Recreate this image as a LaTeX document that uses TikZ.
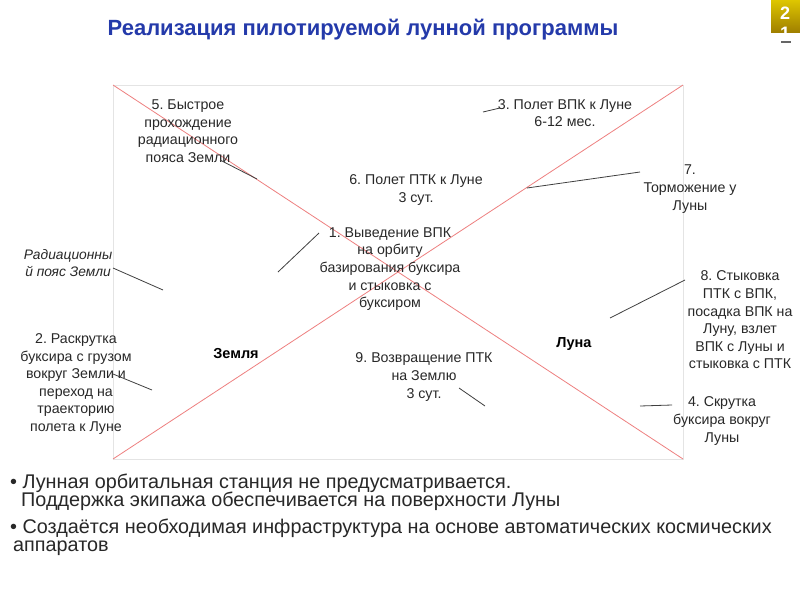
\documentclass[tikz,border=0pt]{standalone}
\usepackage{fontspec}
\setmainfont{Liberation Sans}
\definecolor{titleblue}{RGB}{36,58,170}
\definecolor{xred}{RGB}{238,128,128}
\definecolor{boxgray}{RGB}{228,228,228}
\definecolor{txt}{RGB}{40,40,40}
\definecolor{gold}{RGB}{200,160,0}
\frenchspacing
\tikzset{
  lbl/.style={align=center, text=txt, inner sep=0pt, font=\fontsize{14.2}{17.6}\selectfont},
  callout/.style={draw=black!75, line width=0.8pt},
  bullet/.style={anchor=west, text=txt, inner sep=0pt, font=\fontsize{19.8}{20}\selectfont},
}
\begin{document}
\begin{tikzpicture}[x=1pt,y=-1pt]
\useasboundingbox[fill=white] (0,0) rectangle (800,600);
% page badge
\shade[top color=gold!60!yellow, bottom color=gold!80!black] (771,0) rectangle (800,32);
\node[text=white, font=\bfseries\fontsize{18}{18}\selectfont, inner sep=0pt] (pg2) at (785,13) {2};
\node[text=white, font=\bfseries\fontsize{18}{18}\selectfont, inner sep=0pt] (pg1) at (785,33) {1};
\draw[black!60, line width=1.2pt] (781,42) -- (791,42);
% title
\node[text=titleblue, font=\bfseries\fontsize{22}{24}\selectfont, inner sep=0pt] (title) at (363,30) {Реализация пилотируемой лунной программы};
% frame and X
\coordinate (tl) at (113,85);
\coordinate (tr) at (683,85);
\coordinate (bl) at (113,459);
\coordinate (br) at (683,459);
\draw[boxgray, line width=0.8pt] (tl) rectangle (br);
\draw[xred, line width=0.8pt] (tl) -- (br);
\draw[xred, line width=0.8pt] (tr) -- (bl);
% labels
\node[lbl] (n5) at (188,131) {5. Быстрое\\прохождение\\радиационного\\пояса Земли};
\node[lbl] (n3) at (565,113) {3. Полет ВПК к Луне\\6-12 мес.};
\node[lbl] (n6) at (416,190) {6. Полет ПТК к Луне\\3 сут.};
\node[lbl] (n7) at (690,189) {7.\\Торможение у\\Луны};
\node[lbl] (n1) at (390,269) {1. Выведение ВПК\\на орбиту\\базирования буксира\\и стыковка с\\буксиром};
\node[lbl, font=\itshape\fontsize{13.8}{17}\selectfont] (nR) at (68,263) {Радиационны\\й пояс Земли};
\node[lbl] (n2) at (76,384) {2. Раскрутка\\буксира с грузом\\вокруг Земли и\\переход на\\траекторию\\полета к Луне};
\node[lbl, font=\bfseries\fontsize{14.5}{16}\selectfont, text=black] (zem) at (236,354) {Земля};
\node[lbl, font=\bfseries\fontsize{14.5}{16}\selectfont, text=black] (lun) at (574,344) {Луна};
\node[lbl] (n9) at (424,377) {9. Возвращение ПТК\\на Землю\\3 сут.};
\node[lbl] (n8) at (740,320) {8. Стыковка\\ПТК с ВПК,\\посадка ВПК на\\Луну, взлет\\ВПК с Луны и\\стыковка с ПТК};
\node[lbl] (n4) at (722,421) {4. Скрутка\\буксира вокруг\\Луны};
% callout endpoints
\coordinate (a5) at (220,160); \coordinate (b5) at (257,179);
\coordinate (a3) at (500,108); \coordinate (b3) at (483,112);
\coordinate (a7) at (640,172); \coordinate (b7) at (527,188);
\coordinate (a1) at (319,233); \coordinate (b1) at (278,272);
\coordinate (aR) at (113,268); \coordinate (bR) at (163,290);
\coordinate (a2) at (113,374); \coordinate (b2) at (152,390);
\coordinate (a9) at (459,388); \coordinate (b9) at (485,406);
\coordinate (a8) at (685,280); \coordinate (b8) at (610,318);
\coordinate (a4) at (672,405); \coordinate (b4) at (640,406);
\foreach \k in {5,3,7,1,R,2,9,8,4} {\draw[callout] (a\k) -- (b\k);}
% bullets
\node[bullet] (bl1) at (10,483) {• Лунная орбитальная станция не предусматривается.};
\node[bullet] (bl1b) at (21,501) {Поддержка экипажа обеспечивается на поверхности Луны};
\node[bullet] (bl2) at (10,528) {• Создаётся необходимая инфраструктура на основе автоматических космических};
\node[bullet] (bl2b) at (13,548) {аппаратов};
\end{tikzpicture}
\end{document}
